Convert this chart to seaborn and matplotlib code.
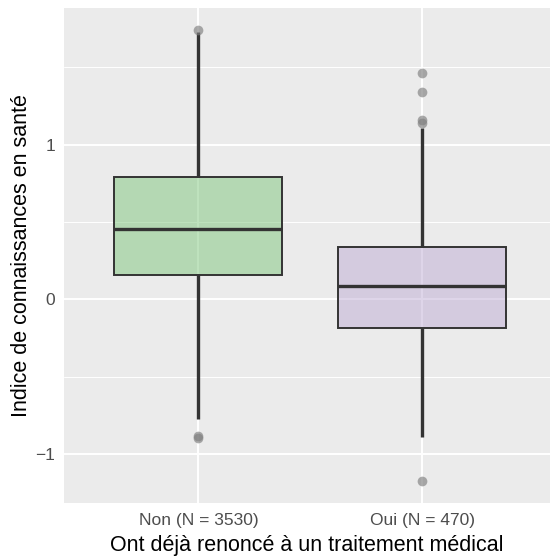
import pandas as pd
import matplotlib.pyplot as plt
import matplotlib.ticker as mticker
import seaborn as sns

# data (box stats: whiskers, quartiles, median, outliers)
labels = ["Non (N = 3530)", "Oui (N = 470)"]
non_vals = [-0.895, -0.885, -0.772, 0.160, 0.30, 0.40, 0.453, 0.55, 0.70, 0.788, 1.0, 1.725, 1.741]
oui_vals = [-1.173, -0.891, -0.60, -0.45, -0.30, -0.183, -0.10, -0.05, 0.0, 0.05, 0.086,
            0.15, 0.20, 0.25, 0.30, 0.335, 1.105, 1.139, 1.159, 1.34, 1.465]
fills = [(127/255, 199/255, 125/255), (191/255, 173/255, 213/255)]

df = pd.DataFrame({
    'groupe': [labels[0]] * len(non_vals) + [labels[1]] * len(oui_vals),
    'indice': non_vals + oui_vals,
})

sns.set_style("darkgrid", {"axes.facecolor": "#EBEBEB", "grid.color": "white"})
plt.rcParams['font.family'] = ['Liberation Sans', 'DejaVu Sans']

fig = plt.figure(figsize=(5.5, 5.57), dpi=100)
ax = fig.add_axes([64/550, 54.3/557, 1 - 64/550, (502.7 - 8)/557])

sns.boxplot(data=df, x='groupe', y='indice', hue='groupe', palette=fills, legend=False,
            saturation=1, width=0.75, linecolor='#333333', linewidth=1.4, ax=ax,
            showcaps=False,
            whiskerprops=dict(linewidth=2.4),
            medianprops=dict(linewidth=2.4),
            flierprops=dict(marker='o', markerfacecolor='#7f7f7f', markeredgecolor='none',
                            markersize=7, alpha=0.65))

for patch, c in zip(ax.patches, fills):
    patch.set_facecolor(c + (0.5,))

ax.set_xlim(-0.6, 1.571)
ax.set_ylim(-1.314, 1.882)
ax.yaxis.set_major_locator(mticker.FixedLocator([-1, 0, 1]))
ax.yaxis.set_minor_locator(mticker.FixedLocator([-0.5, 0.5, 1.5]))
ax.grid(which='major', axis='both', color='white', linewidth=1.4)
ax.grid(which='minor', axis='y', color='white', linewidth=0.7)
ax.set_axisbelow(True)
for s in ax.spines.values():
    s.set_visible(False)

ax.tick_params(axis='both', which='major', length=2.5, width=0.8, color='#333333',
               labelcolor='#4D4D4D', labelsize=12.5, pad=4)
ax.tick_params(axis='x', which='major', pad=5)
ax.tick_params(axis='y', which='minor', length=0)
ax.set_xlabel('Ont déjà renoncé à un traitement médical', fontsize=15.5, color='black', labelpad=5)
ax.set_ylabel('Indice de connaissances en santé', fontsize=15.5, color='black', labelpad=2)

fig.savefig('out.png', dpi=100)
